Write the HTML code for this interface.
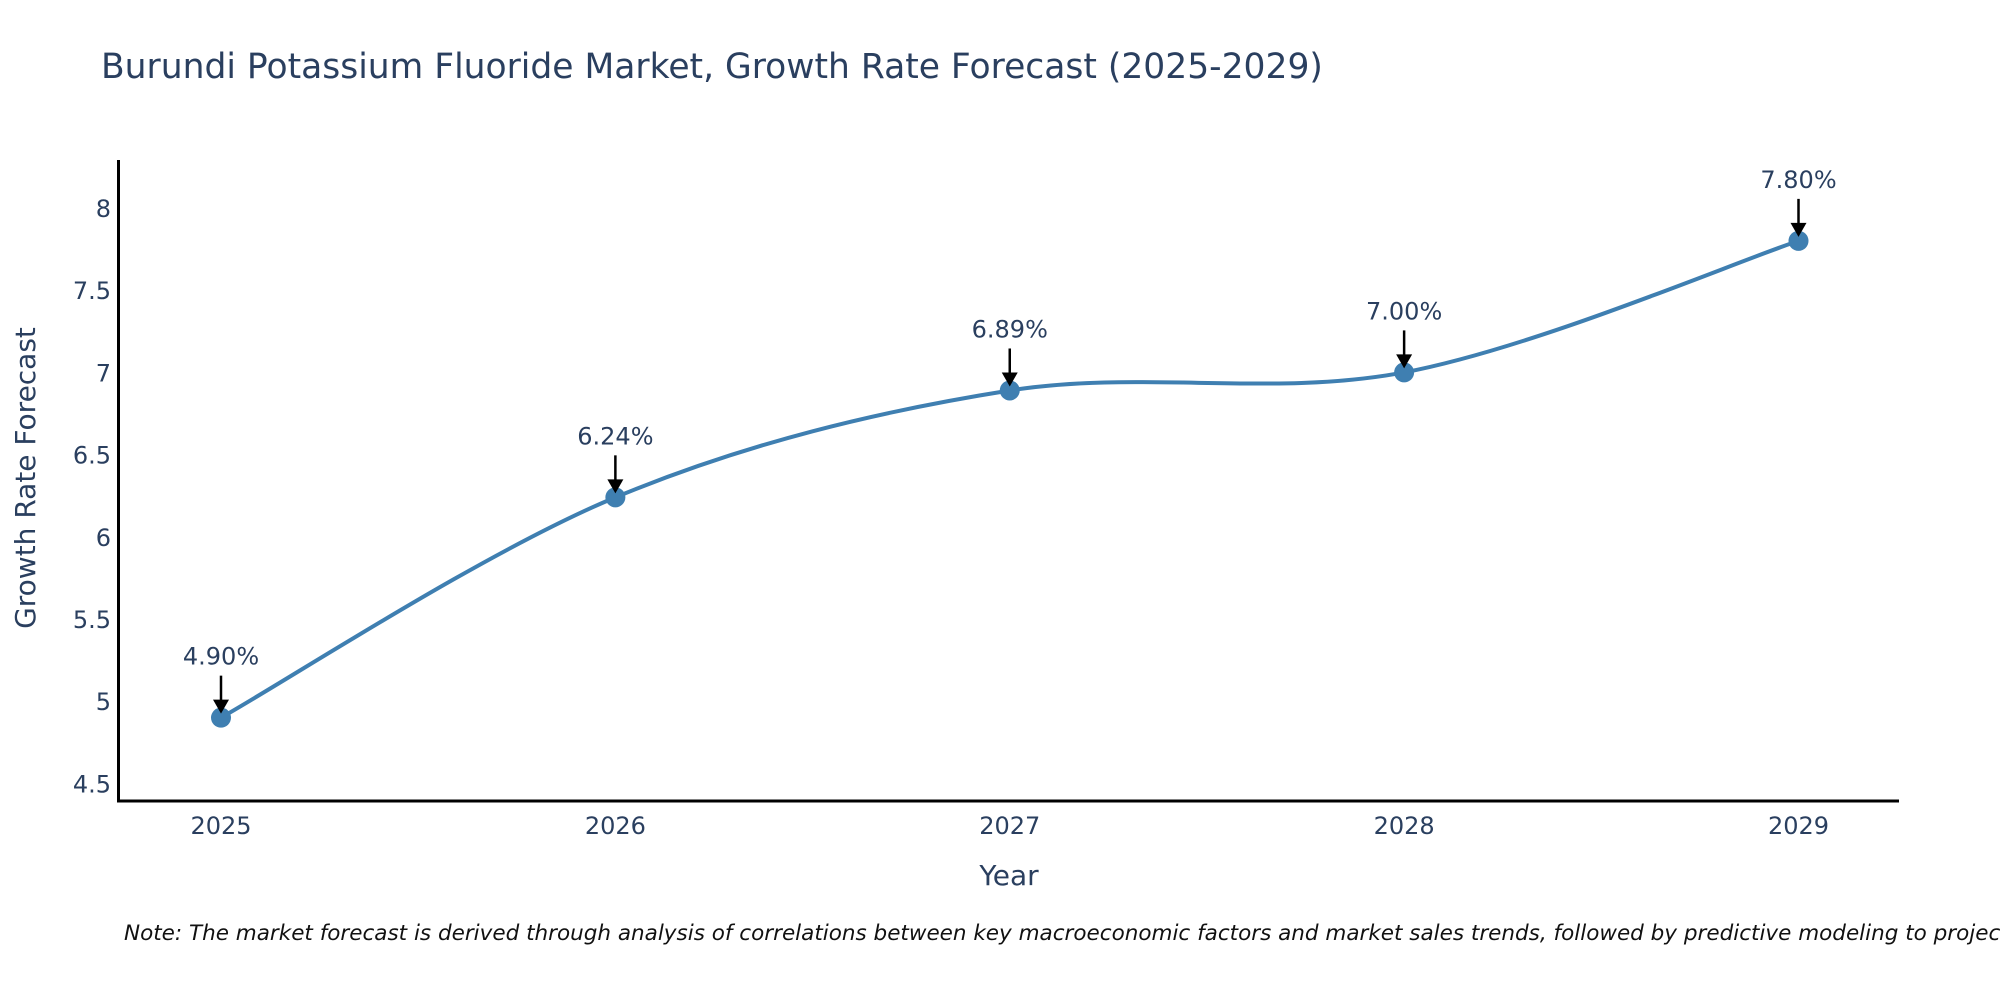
<!DOCTYPE html>
<html><head><meta charset="utf-8"><style>
html,body{margin:0;padding:0;background:#fff;}
svg{display:block;font-family:"DejaVu Sans","Liberation Sans",sans-serif;}
</style></head><body>
<svg id="chart" width="2000" height="1000" viewBox="0 0 2000 1000">
<text x="101" y="78" font-size="34.5" fill="#2a3f5f">Burundi Potassium Fluoride Market, Growth Rate Forecast (2025-2029)</text>
<g id="yticks"></g><g id="xticks"></g>
<path id="line" fill="none" stroke="#3f7fb1" stroke-width="4"/>
<g id="marks"></g>
<line x1="118.5" y1="160" x2="118.5" y2="802" stroke="#000" stroke-width="3"/>
<line x1="117" y1="801" x2="1899" y2="801" stroke="#000" stroke-width="3"/>
<text x="1009" y="885" font-size="28" fill="#2a3f5f" text-anchor="middle">Year</text>
<text transform="translate(35,478) rotate(-90)" font-size="28" fill="#2a3f5f" text-anchor="middle">Growth Rate Forecast</text>
<text x="124" y="940" font-size="21.5" font-style="italic" fill="#111">Note: The market forecast is derived through analysis of correlations between key macroeconomic factors and market sales trends, followed by predictive modeling to project future sales.</text>
</svg>
<script>
const years = ["2025","2026","2027","2028","2029"];
const values = [4.90, 6.24, 6.89, 7.00, 7.80];
const labels = ["4.90%","6.24%","6.89%","7.00%","7.80%"];
const yTicks = [4.5,5,5.5,6,6.5,7,7.5,8];
const NS="http://www.w3.org/2000/svg";
function xPos(i){return 221+i*(1798.5-221)/(years.length-1);}
function yPos(v){return 208+(8-v)*164.4;}
function mk(tag,attrs,parent){const e=document.createElementNS(NS,tag);for(const k in attrs)e.setAttribute(k,attrs[k]);parent.appendChild(e);return e;}
const yt=document.getElementById('yticks'),xt=document.getElementById('xticks'),mg=document.getElementById('marks');
yTicks.forEach(v=>{const t=mk('text',{x:111,y:yPos(v)+9,'font-size':24,fill:'#2a3f5f','text-anchor':'end'},yt);t.textContent=String(v);

});
years.forEach((y,i)=>{const t=mk('text',{x:xPos(i),y:834,'font-size':24,fill:'#2a3f5f','text-anchor':'middle'},xt);t.textContent=y;

});
const pts=values.map((v,i)=>[xPos(i),yPos(v)]);
let d='M'+pts[0][0]+','+pts[0][1];
for(let i=0;i<pts.length-1;i++){const p0=pts[Math.max(0,i-1)],p1=pts[i],p2=pts[i+1],p3=pts[Math.min(pts.length-1,i+2)];const k=1/6;
d+=' C'+(p1[0]+(p2[0]-p0[0])*k)+','+(p1[1]+(p2[1]-p0[1])*k)+' '+(p2[0]-(p3[0]-p1[0])*k)+','+(p2[1]-(p3[1]-p1[1])*k)+' '+p2[0]+','+p2[1];}
document.getElementById('line').setAttribute('d',d);
pts.forEach((p,i)=>{
const c=mk('circle',{cx:p[0],cy:p[1],r:10,fill:'#3f7fb1'},mg);


const l=mk('line',{x1:p[0],y1:p[1]-42,x2:p[0],y2:p[1]-16,stroke:'#000','stroke-width':2.5},mg);


const h=mk('polygon',{points:(p[0]-8)+','+(p[1]-18)+' '+(p[0]+8)+','+(p[1]-18)+' '+p[0]+','+(p[1]-4),fill:'#000'},mg);


const t=mk('text',{x:p[0],y:p[1]-53,'font-size':24,fill:'#2a3f5f','text-anchor':'middle'},mg);t.textContent=labels[i];


});
</script>
</body></html>
